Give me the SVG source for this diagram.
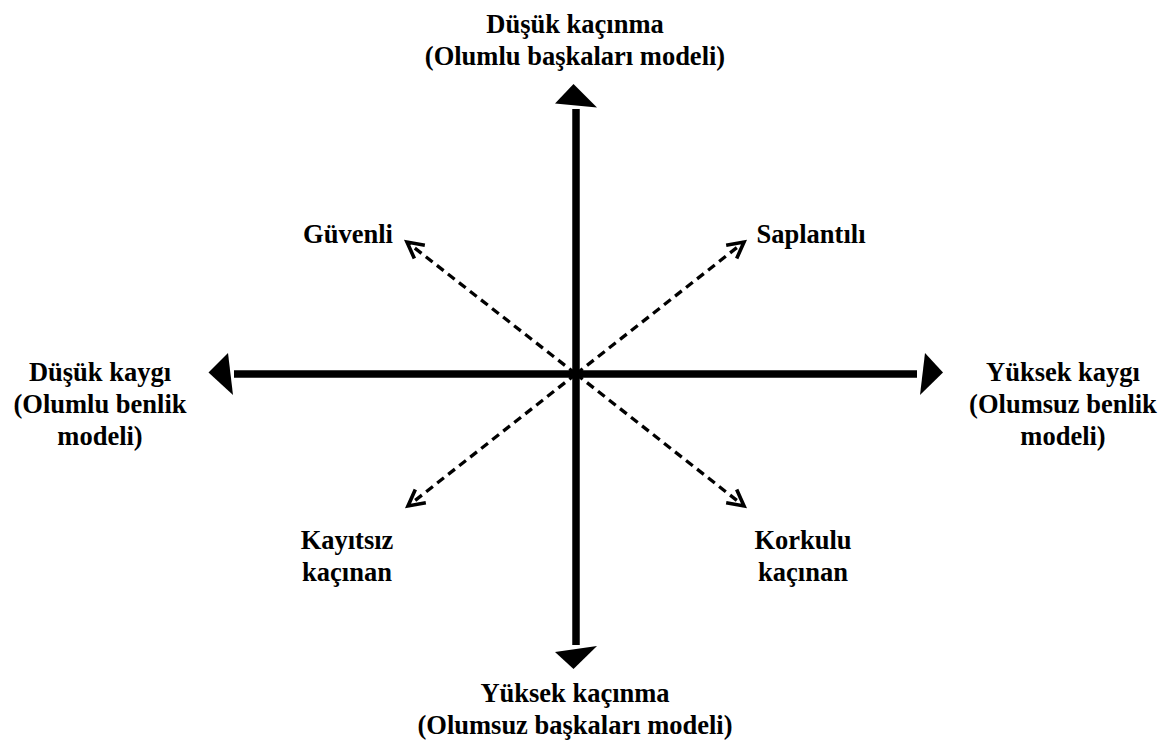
<svg xmlns="http://www.w3.org/2000/svg" width="1165" height="743" viewBox="0 0 1165 743">
<style>
.t{font-family:"Liberation Serif","Times New Roman",serif;font-weight:bold;font-size:26.5px;fill:#000;text-anchor:middle}
.axis{stroke:#000;stroke-width:7.5;fill:none}
.dash{stroke:#000;stroke-width:3.3;stroke-dasharray:8.5 5.5;fill:none;marker-end:url(#chev)}
.head{fill:#000}
</style>
<defs>
<marker id="chev" markerUnits="userSpaceOnUse" markerWidth="40" markerHeight="40" refX="0" refY="0" orient="auto" overflow="visible">
<path d="M-16,-8.5 L0,0 L-16,8.5" fill="none" stroke="#000" stroke-width="3.6" stroke-linejoin="miter"/>
</marker>
</defs>
<rect width="1165" height="743" fill="#fff"/>
<g id="connectors">
<line class="axis" x1="576" y1="109" x2="576" y2="645"/>
<line class="axis" x1="234" y1="374" x2="917" y2="374"/>
<polygon class="head" points="573.5,84 555,103.5 597,107.5"/>
<polygon class="head" points="573.5,669 555,652 597,646"/>
<polygon class="head" points="208.5,372.5 228,353 233,395"/>
<polygon class="head" points="943,372.5 925,353 920,395"/>
<line class="dash" x1="576" y1="374" x2="407" y2="242"/>
<line class="dash" x1="576" y1="374" x2="744" y2="242"/>
<line class="dash" x1="576" y1="374" x2="408" y2="506"/>
<line class="dash" x1="576" y1="374" x2="744" y2="506"/>
</g>
<g id="top-label"><text class="t" x="575" y="33">Düşük kaçınma</text><text class="t" x="575" y="65">(Olumlu başkaları modeli)</text></g>
<g id="bottom-label"><text class="t" x="575" y="702">Yüksek kaçınma</text><text class="t" x="575" y="734">(Olumsuz başkaları modeli)</text></g>
<g id="left-label"><text class="t" x="100" y="381">Düşük kaygı</text><text class="t" x="100" y="413">(Olumlu benlik</text><text class="t" x="100" y="445">modeli)</text></g>
<g id="right-label"><text class="t" x="1063" y="381">Yüksek kaygı</text><text class="t" x="1063" y="413">(Olumsuz benlik</text><text class="t" x="1063" y="445">modeli)</text></g>
<g id="guvenli"><text class="t" x="348" y="243">Güvenli</text></g>
<g id="saplantili"><text class="t" x="811" y="243">Saplantılı</text></g>
<g id="kayitsiz"><text class="t" x="347" y="549">Kayıtsız</text><text class="t" x="347" y="581">kaçınan</text></g>
<g id="korkulu"><text class="t" x="803" y="549">Korkulu</text><text class="t" x="803" y="581">kaçınan</text></g>
</svg>
